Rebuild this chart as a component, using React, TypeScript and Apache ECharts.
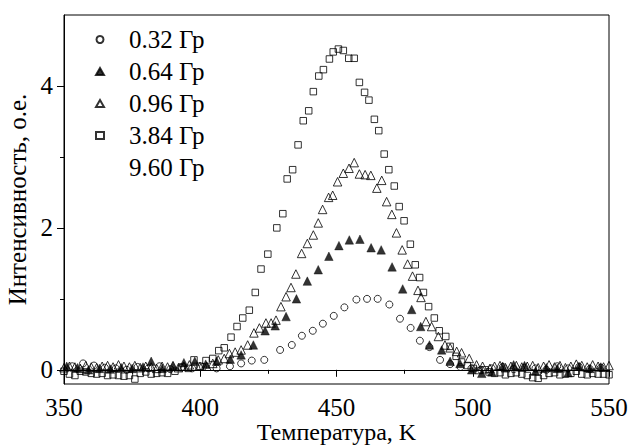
import React, { useEffect, useRef } from "react";
import * as echarts from "echarts";

// Температура (K) и интенсивность (о.е.) для каждой дозы
const T_032 = [353, 357, 361, 365, 369, 373, 377, 381, 385, 389, 393, 397, 401, 406, 410.9, 415.0, 418.9, 423.5, 429.3, 433.6, 437.3, 441.3, 445.0, 449.0, 452.9, 457.3, 461.2, 465.1, 469.4, 473.3, 477.2, 480.6, 484.1, 488.0, 491.7, 495.5, 499.5, 503.0, 507, 511, 515, 519, 523, 527, 531, 535, 539, 543, 547];
const I_032 = [0.05, 0.09, 0.06, 0.03, 0.02, 0.0, 0.04, 0.02, 0.05, 0.01, 0.03, 0.02, 0.04, 0.02, 0.05, 0.09, 0.13, 0.14, 0.28, 0.35, 0.48, 0.55, 0.65, 0.76, 0.88, 0.99, 1.0, 1.0, 0.92, 0.72, 0.59, 0.41, 0.32, 0.14, 0.08, 0.04, 0.02, 0.0, 0.02, 0.04, 0.01, 0.03, 0.02, 0.0, 0.05, 0.02, 0.04, 0.01, 0.03];

const T_064 = [351, 355, 359, 363, 367, 371, 375, 379, 382, 386, 390, 394, 398, 402, 406, 411, 415.0, 419.5, 423.8, 427.5, 431.5, 435.3, 439.3, 443.3, 447.2, 450.9, 454.7, 458.6, 462.7, 466.4, 470.4, 474.3, 477.6, 480.9, 484.1, 488.6, 491.7, 495.3, 499.6, 503.3, 507, 511, 515, 519, 523, 527, 531, 535, 539, 543, 547];
const I_064 = [0.05, 0.03, 0.0, 0.02, 0.01, 0.03, 0.02, 0.04, 0.12, 0.02, 0.05, 0.1, 0.12, 0.08, 0.12, 0.15, 0.21, 0.35, 0.55, 0.62, 0.75, 1.0, 1.25, 1.41, 1.6, 1.75, 1.83, 1.84, 1.72, 1.69, 1.45, 1.14, 0.85, 0.61, 0.35, 0.28, 0.12, 0.09, 0.0, -0.05, -0.03, 0.05, 0.07, 0.06, -0.02, 0.03, 0.02, -0.04, 0.05, 0.02, 0.04];

const T_096 = [350, 352, 354, 356, 358, 360, 362, 364, 366, 368, 370, 372, 374, 376, 378, 380, 382, 384, 386, 388, 390, 392, 394, 396,
  399.9, 402.4, 404.6, 406.6, 408.8, 410.7, 412.8, 415.0, 417.4, 419.7, 421.7, 424.1, 426.0, 427.8, 429.6, 431.5, 433.3, 435.1, 437.2, 439.3, 441.5, 443.3, 444.9, 447.1, 448.6, 450.4, 452.5, 454.6, 456.5, 458.4, 460.5, 462.6, 464.8, 466.6, 468.4, 470.3, 472.0, 474.1, 476.1, 477.9, 479.9, 481.0, 482.8, 484.9, 487.4, 489.8, 491.7, 494.1, 495.9, 498.7, 501.4, 503.6, 506.3,
  508, 510, 512, 514, 516, 518, 520, 522, 524, 526, 528, 530, 532, 534, 536, 538, 540, 542, 544, 546, 548, 550];
const I_096 = [0.03, 0.05, 0.04, 0.02, 0.06, 0.04, 0.03, 0.05, 0.06, 0.04, 0.07, 0.05, 0.04, 0.06, 0.03, 0.05, 0.04, 0.02, 0.05, 0.04, 0.06, 0.03, 0.05, 0.07,
  0.05, 0.05, 0.09, 0.14, 0.16, 0.23, 0.25, 0.28, 0.35, 0.52, 0.59, 0.66, 0.66, 0.7, 0.89, 1.03, 1.16, 1.35, 1.64, 1.78, 1.9, 2.07, 2.26, 2.43, 2.46, 2.65, 2.77, 2.84, 2.92, 2.76, 2.75, 2.74, 2.56, 2.67, 2.37, 2.19, 1.93, 1.69, 1.49, 1.32, 1.12, 1.02, 0.68, 0.61, 0.47, 0.35, 0.31, 0.26, 0.24, 0.16, 0.07, 0.05, 0.02,
  0.05, 0.06, 0.03, 0.05, 0.06, 0.04, 0.05, 0.06, 0.03, 0.05, 0.07, 0.04, 0.06, 0.03, 0.05, 0.08, 0.06, 0.04, 0.07, 0.05, 0.04, 0.06];

const T_384 = [350, 352, 354, 356, 358, 360, 362, 364, 366, 368, 370, 372, 374, 376, 378, 380, 382, 384, 386, 388,
  390.7, 393.3, 395.6, 397.7, 399.9, 402.1, 404.6, 406.8, 408.8, 411.3, 413.5, 415.6, 418.0, 420.2, 422.3, 424.8, 428.1, 430.3, 431.9, 433.9, 435.9, 437.8, 439.8, 441.5, 443.5, 445.2, 447.4, 448.8, 450.7, 452.5, 454.5, 456.5, 458.4, 460.3, 461.9, 463.9, 465.5, 467.5, 469.2, 471.2, 473.0, 474.8, 477.1, 478.9, 480.5, 481.9, 483.8, 485.9, 487.7, 490.1, 491.7, 493.9, 495.9, 498.0, 500.2, 502.3, 504.5,
  506, 508, 510, 512, 514, 516, 518, 520, 522, 524, 526, 528, 530, 532, 534, 536, 538, 540, 542, 544, 546, 548, 550];
const I_384 = [-0.02, -0.06, -0.08, -0.02, -0.03, -0.05, -0.06, -0.05, -0.08, -0.07, -0.08, -0.09, -0.08, -0.13, -0.05, -0.03, -0.06, -0.05, -0.04, -0.05,
  -0.02, 0.04, 0.02, 0.14, 0.05, 0.13, 0.16, 0.27, 0.31, 0.46, 0.61, 0.73, 0.84, 1.09, 1.42, 1.63, 2.0, 2.2, 2.69, 2.82, 3.17, 3.51, 3.65, 3.92, 4.14, 4.23, 4.38, 4.48, 4.52, 4.5, 4.39, 4.39, 4.05, 3.91, 3.8, 3.53, 3.37, 3.04, 2.82, 2.59, 2.3, 2.1, 1.77, 1.48, 1.3, 1.09, 0.89, 0.73, 0.55, 0.47, 0.33, 0.19, 0.11, 0.06, 0.02, -0.01, 0.0,
  -0.03, -0.05, -0.04, -0.07, -0.05, -0.04, -0.06, -0.08, -0.11, -0.12, -0.08, -0.05, -0.04, -0.07, -0.06, -0.05, -0.02, -0.06, -0.07, -0.05, -0.06, -0.06, -0.07];

const SERIES_NAMES = ["0.32 Гр", "0.64 Гр", "0.96 Гр", "3.84 Гр", "9.60 Гр"];
const X_TICKS = [350, 400, 450, 500, 550];
const Y_TICKS = [0, 2, 4];
const Y_MINOR = [1, 3];

const FONT = "Liberation Serif, Times New Roman, serif";

function zip(t: number[], v: number[]) {
  return t.map((x, i) => [x, v[i]]);
}

export default function App() {
  const ref = useRef<HTMLDivElement>(null);
  useEffect(() => {
    document.body.style.margin = "0";
    if (!ref.current) return;
    const chart = echarts.init(ref.current, null, { renderer: "svg" });
    const open = { color: "transparent", borderColor: "#000", borderWidth: 1 };
    chart.setOption({
      animation: false,
      backgroundColor: "#fff",
      textStyle: { fontFamily: FONT },
      grid: {
        left: 64, right: 20, top: 15, bottom: 62,
        outerBoundsMode: "none",
        show: true, borderColor: "#000", borderWidth: 1, backgroundColor: "transparent",
      },
      legend: {
        orient: "vertical",
        left: 95, top: 27, padding: 0,
        itemWidth: 8, itemHeight: 7, itemGap: 7,
        symbolKeepAspect: true,
        selectedMode: false,
        textStyle: { fontFamily: FONT, fontSize: 25, color: "#000", lineHeight: 23, padding: [0, 0, 0, 20] },
        data: SERIES_NAMES,
      },
      xAxis: {
        type: "value", min: X_TICKS[0], max: X_TICKS[X_TICKS.length - 1], interval: 50,
        name: "Температура, K", nameLocation: "middle", nameGap: 36,
        nameMoveOverlap: false,
        nameTextStyle: { fontFamily: FONT, fontSize: 24, color: "#000", lineHeight: 24 },
        axisLine: { lineStyle: { color: "#000", width: 1 } },
        axisTick: { length: 7, lineStyle: { color: "#000" } },
        minorTick: { show: true, splitNumber: 2, length: 4, lineStyle: { color: "#000" } },
        axisLabel: { fontFamily: FONT, fontSize: 25, color: "#000", margin: 11 },
        splitLine: { show: false },
      },
      yAxis: [
        {
          type: "value", min: -0.2, max: 5,
          name: "Интенсивность, о.е.", nameLocation: "middle", nameGap: 30,
          nameTextStyle: { fontFamily: FONT, fontSize: 25, color: "#000" },
          axisLine: { show: true, lineStyle: { color: "#000", width: 1 } },
          axisTick: { show: true, length: 7, customValues: Y_TICKS, lineStyle: { color: "#000" } },
          axisLabel: { fontFamily: FONT, fontSize: 25, color: "#000", margin: 11, customValues: Y_TICKS },
          splitLine: { show: false },
        },
        {
          type: "value", min: -0.2, max: 5, position: "left", offset: 0,
          axisLine: { show: false },
          axisTick: { show: true, length: 4, customValues: Y_MINOR, lineStyle: { color: "#000" } },
          axisLabel: { show: false },
          splitLine: { show: false },
        },
      ],
      series: [
        { name: SERIES_NAMES[0], type: "scatter", symbol: "circle", symbolSize: 7, itemStyle: open, data: zip(T_032, I_032) },
        { name: SERIES_NAMES[1], type: "scatter", symbol: "triangle", symbolSize: 8.5, itemStyle: { color: "#000", borderColor: "#000", borderWidth: 0.5 }, data: zip(T_064, I_064) },
        { name: SERIES_NAMES[2], type: "scatter", symbol: "triangle", symbolSize: 8.5, itemStyle: open, data: zip(T_096, I_096) },
        { name: SERIES_NAMES[3], type: "scatter", symbol: "rect", symbolSize: 6.5, itemStyle: open, data: zip(T_384, I_384) },
        { name: SERIES_NAMES[4], type: "scatter", symbol: "circle", symbolSize: 7, itemStyle: { color: "transparent", borderColor: "transparent", borderWidth: 0 }, data: [] },
      ],
    });
    return () => chart.dispose();
  }, []);
  return <div ref={ref} style={{ width: 629, height: 446 }} />;
}
